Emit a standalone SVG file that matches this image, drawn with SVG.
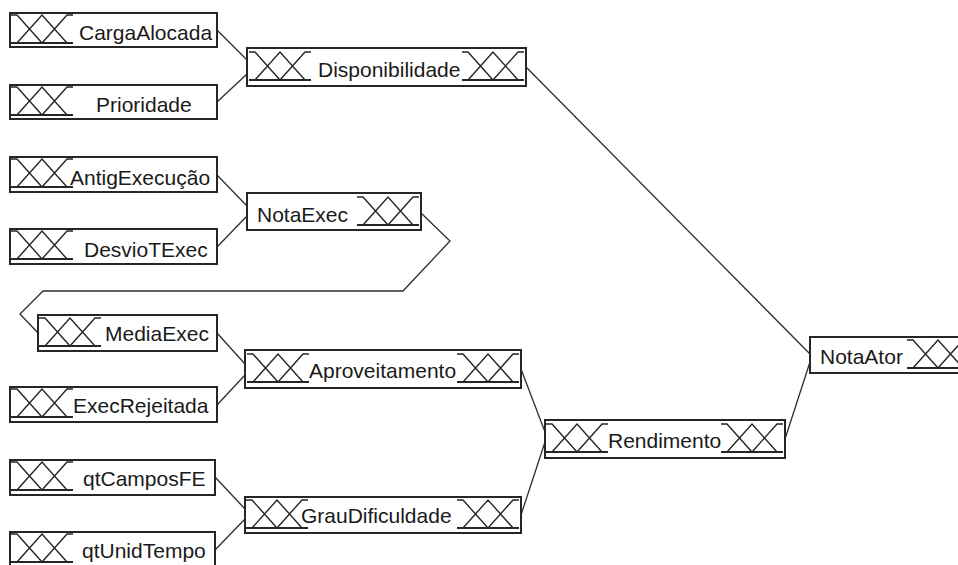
<svg xmlns="http://www.w3.org/2000/svg" xmlns:xlink="http://www.w3.org/1999/xlink" width="958" height="565" viewBox="0 0 958 565">
  <style>
    .box { fill: #ffffff; stroke: #262626; stroke-width: 2; }
    .lbl { font-family: "Liberation Sans", Arial, sans-serif; font-size: 21px; fill: #1a1a1a; }
    .mf { fill: none; stroke: #262626; stroke-width: 1.4; stroke-linejoin: miter; }
    .base { fill: none; stroke: #262626; stroke-width: 2; }
    .wire { fill: none; stroke: #2e2e2e; stroke-width: 1.3; }
  </style>
  <defs>
    <!-- three membership functions: left shoulder, triangle, right shoulder -->
    <g id="xx">
      <path class="mf" d="M0,0 H6 L31,28 M6,28 L31,0 L56,28 M31,28 L56,0 H62"/>
      <path class="base" d="M0,28 H62"/>
    </g>
  </defs>

  <g id="connectors">
    <path class="wire" d="M217,30 L247,60"/>
    <path class="wire" d="M217,102 L247,74"/>
    <path class="wire" d="M217,175 L247,206"/>
    <path class="wire" d="M217,247 L247,216"/>
    <path class="wire" d="M217,333 L245,364"/>
    <path class="wire" d="M217,405 L245,375"/>
    <path class="wire" d="M215,477 L245,509"/>
    <path class="wire" d="M215,550 L245,519"/>
    <path class="wire" d="M526,67 L810,354"/>
    <path class="wire" d="M421,213 L450,241 L403,291 L43,291 L20,314 L38,333"/>
    <path class="wire" d="M521,369 L545,432"/>
    <path class="wire" d="M521,515 L545,442"/>
    <path class="wire" d="M785,439 L810,362"/>
  </g>

  <g id="CargaAlocada">
    <rect class="box" x="10" y="13" width="207" height="34"/>
    <use xlink:href="#xx" x="11" y="15"/>
    <text class="lbl" x="79" y="40">CargaAlocada</text>
  </g>
  <g id="Prioridade">
    <rect class="box" x="10" y="85" width="207" height="34"/>
    <use xlink:href="#xx" x="11" y="87"/>
    <text class="lbl" x="96" y="112">Prioridade</text>
  </g>
  <g id="Disponibilidade">
    <rect class="box" x="247" y="48" width="279" height="38"/>
    <use xlink:href="#xx" x="249" y="52"/>
    <text class="lbl" x="318" y="77">Disponibilidade</text>
    <use xlink:href="#xx" x="462" y="52"/>
  </g>
  <g id="AntigExecucao">
    <rect class="box" x="10" y="157" width="207" height="35"/>
    <use xlink:href="#xx" x="11" y="159"/>
    <text class="lbl" x="70" y="185">AntigExecução</text>
  </g>
  <g id="DesvioTExec">
    <rect class="box" x="10" y="229" width="207" height="35"/>
    <use xlink:href="#xx" x="11" y="231"/>
    <text class="lbl" x="84" y="257">DesvioTExec</text>
  </g>
  <g id="NotaExec">
    <rect class="box" x="247" y="193" width="174" height="37"/>
    <text class="lbl" x="257" y="222">NotaExec</text>
    <use xlink:href="#xx" x="357" y="197"/>
  </g>
  <g id="MediaExec">
    <rect class="box" x="38" y="315" width="179" height="36"/>
    <use xlink:href="#xx" x="39" y="318"/>
    <text class="lbl" x="105" y="341">MediaExec</text>
  </g>
  <g id="ExecRejeitada">
    <rect class="box" x="10" y="387" width="207" height="35"/>
    <use xlink:href="#xx" x="11" y="389"/>
    <text class="lbl" x="73" y="413">ExecRejeitada</text>
  </g>
  <g id="Aproveitamento">
    <rect class="box" x="245" y="350" width="276" height="38"/>
    <use xlink:href="#xx" x="247" y="354"/>
    <text class="lbl" x="309" y="378">Aproveitamento</text>
    <use xlink:href="#xx" x="457" y="354"/>
  </g>
  <g id="Rendimento">
    <rect class="box" x="545" y="420" width="240" height="38"/>
    <use xlink:href="#xx" x="546" y="424"/>
    <text class="lbl" x="608" y="448">Rendimento</text>
    <use xlink:href="#xx" x="721" y="424"/>
  </g>
  <g id="NotaAtor">
    <rect class="box" x="810" y="337" width="170" height="36"/>
    <text class="lbl" x="820" y="364">NotaAtor</text>
    <use xlink:href="#xx" x="907" y="340"/>
  </g>
  <g id="qtCamposFE">
    <rect class="box" x="10" y="460" width="205" height="35"/>
    <use xlink:href="#xx" x="11" y="462"/>
    <text class="lbl" x="83" y="486">qtCamposFE</text>
  </g>
  <g id="GrauDificuldade">
    <rect class="box" x="245" y="497" width="276" height="36"/>
    <use xlink:href="#xx" x="246" y="500"/>
    <text class="lbl" x="301" y="523">GrauDificuldade</text>
    <use xlink:href="#xx" x="457" y="500"/>
  </g>
  <g id="qtUnidTempo">
    <rect class="box" x="10" y="532" width="205" height="40"/>
    <use xlink:href="#xx" x="11" y="534"/>
    <text class="lbl" x="82" y="558">qtUnidTempo</text>
  </g>
</svg>
